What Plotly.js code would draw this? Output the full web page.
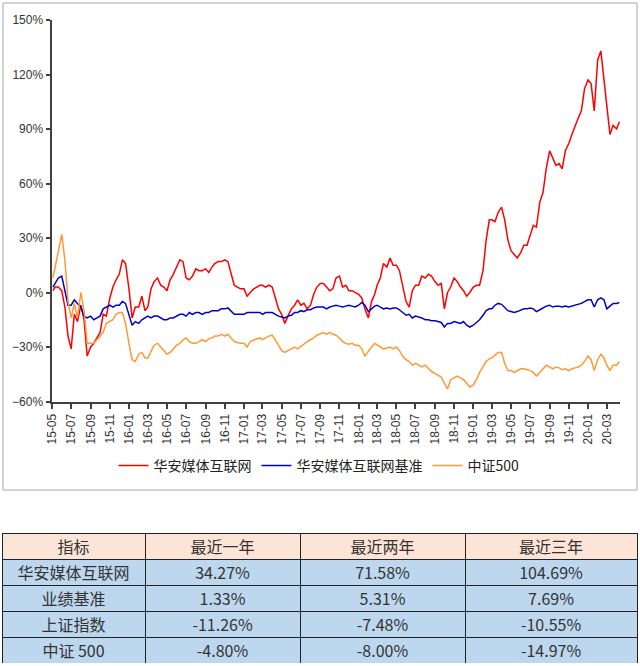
<!DOCTYPE html>
<html><head><meta charset="utf-8">
<script src="https://cdn.plot.ly/plotly-3.0.1.min.js"></script>
<style>html,body{margin:0;padding:0;background:#fff}#chart{width:640px;height:666px}</style>
</head><body><div id="chart"></div>
<script>
const dates = [
"2015-05-04","2015-05-11","2015-05-21",
"2015-06-01","2015-06-11","2015-06-21","2015-07-01","2015-07-11","2015-07-21","2015-08-01","2015-08-11","2015-08-21",
"2015-09-01","2015-09-11","2015-09-21","2015-10-01","2015-10-11","2015-10-21","2015-11-01","2015-11-11","2015-11-21",
"2015-12-01","2015-12-11","2015-12-21",
"2016-01-01","2016-01-11","2016-01-21","2016-02-01","2016-02-11","2016-02-21","2016-03-01","2016-03-11","2016-03-21",
"2016-04-01","2016-04-11","2016-04-21","2016-05-01","2016-05-11","2016-05-21","2016-06-01","2016-06-11","2016-06-21",
"2016-07-01","2016-07-11","2016-07-21","2016-08-01","2016-08-11","2016-08-21","2016-09-01","2016-09-11","2016-09-21",
"2016-10-01","2016-10-11","2016-10-21","2016-11-01","2016-11-11","2016-11-21","2016-12-01","2016-12-11","2016-12-21",
"2017-01-01","2017-01-11","2017-01-21","2017-02-01","2017-02-11","2017-02-21","2017-03-01","2017-03-11","2017-03-21",
"2017-04-01","2017-04-11","2017-04-21","2017-05-01","2017-05-11","2017-05-21","2017-06-01","2017-06-11","2017-06-21",
"2017-07-01","2017-07-11","2017-07-21","2017-08-01","2017-08-11","2017-08-21","2017-09-01","2017-09-11","2017-09-21",
"2017-10-01","2017-10-11","2017-10-21","2017-11-01","2017-11-11","2017-11-21","2017-12-01","2017-12-11","2017-12-21",
"2018-01-01","2018-01-11","2018-01-21","2018-02-01","2018-02-11","2018-02-21","2018-03-01","2018-03-11","2018-03-21",
"2018-04-01","2018-04-11","2018-04-21","2018-05-01","2018-05-11","2018-05-21","2018-06-01","2018-06-11","2018-06-21",
"2018-07-01","2018-07-11","2018-07-21","2018-08-01","2018-08-11","2018-08-21","2018-09-01","2018-09-11","2018-09-21",
"2018-10-01","2018-10-11","2018-10-21","2018-11-01","2018-11-11","2018-11-21","2018-12-01","2018-12-11","2018-12-21",
"2019-01-01","2019-01-11","2019-01-21","2019-02-01","2019-02-11","2019-02-21","2019-03-01","2019-03-11","2019-03-21",
"2019-04-01","2019-04-11","2019-04-21","2019-05-01","2019-05-11","2019-05-21","2019-06-01","2019-06-11","2019-06-21",
"2019-07-01","2019-07-11","2019-07-21","2019-08-01","2019-08-11","2019-08-21","2019-09-01","2019-09-11","2019-09-21",
"2019-10-01","2019-10-11","2019-10-21","2019-11-01","2019-11-11","2019-11-21","2019-12-01","2019-12-11","2019-12-21",
"2020-01-01","2020-01-11","2020-01-21","2020-02-01","2020-02-11","2020-02-21","2020-03-01","2020-03-11","2020-03-21",
"2020-04-01","2020-04-10"
];
const fundReturn = [
1,3,3, 1,-8,-24, -31,-12,-16, -7,-15,-35, -30,-28,-25, -22,-12,-13, -3,3,7, 10,18,16,
2,-14,-8, -8,-2,-10, -8,2,6, 8,4,3, 1,7,10, 14,18,17, 8,7,9, 13,12,12, 13,11,14, 16,17,17, 18,17,11, 4,3,2,
2,-2,0, 2,3,4, 4,3,4, 3,-3,-9, -12,-17,-13, -9,-7,-4, -7,-6,-9, -7,-1,3, 5,5,3, 1,2,8, 9,3,4, 1,1,0,
-1,-3,-9, -14,-5,-1, 4,8,16, 14,19,15, 15,12,3, -5,-8,1, 4,4,9, 8,10,9, 6,4,5, -9,0,3, 8,6,3, 1,-2,0,
3,4,4, 12,29,40, 40,39,44, 47,40,29, 23,21,19, 22,26,26, 31,37,36, 50,55,68, 78,74,70, 71,68,78, 82,87,92, 96,100,112,
117,115,100, 128,133,118, 103,87,92, 90,94
];
const benchmarkReturn = [
3,5,8, 9,1,-7, -7,-4,-6, -8,-13,-14, -13,-15,-14, -13,-9,-8, -7,-8,-7, -7,-5,-6,
-13,-18,-16, -17,-15,-14, -13,-14,-13, -13,-14,-15, -15,-14,-14, -13,-12,-12, -13,-11,-12, -11,-11,-12, -11,-11,-10, -10,-10,-9, -9,-8.5,-10, -12,-12,-12,
-12,-11,-11, -11,-11,-11, -12,-11,-11, -11,-12,-13, -13.5,-14,-13, -12.5,-11,-11, -10,-10.5,-9.5, -9.5,-8.5,-8, -8,-8,-9, -8,-7.5,-7, -7.5,-8,-7.5, -7,-7.5,-8,
-7,-5.5,-7, -10.5,-9,-7.5, -7,-8,-9, -8.5,-9,-8.5, -8.5,-9.5,-11, -12.5,-12,-14, -13,-13.5,-14, -15,-15,-15.5, -15.5,-16,-16.5, -19,-17,-17, -16,-16.5,-17, -16,-18,-19,
-18,-16.5,-15, -12.5,-10,-9, -9,-7,-6, -6.5,-8.5,-10, -10.5,-11,-10.5, -9.5,-9,-9, -8.5,-9,-10.5, -9.5,-8.5,-7.5, -7,-8,-7.5, -7.5,-8,-7.5, -8,-7.5,-7, -6.5,-6,-5,
-4,-4,-8, -4,-3,-4, -9,-7.5,-6, -6,-5.5
];
const csi500Return = [
8,14,22, 32,18,-5, -14,-6,-14, 0,-10,-28, -28,-28,-26, -24,-22,-17, -16,-15,-12, -11,-11,-17,
-28,-37,-38, -34,-33,-36, -36,-32,-29, -28,-30,-32, -34,-33,-31, -29,-28,-26, -25,-27,-28, -28,-27,-26, -27,-25.5,-25, -24,-24,-23, -24,-23,-25, -27,-27.5,-28,
-28,-30,-27, -26,-25.5,-25, -26,-25,-24, -23.5,-26,-29, -32,-33,-32, -31,-30,-31, -29.5,-28,-27, -26,-25,-23.5, -22.5,-22,-23, -22,-23,-23.5, -25,-27,-28, -28.5,-28,-29,
-29,-31,-35, -32,-30,-28, -29,-30,-31, -30.5,-30,-31, -30,-32,-35, -37,-38,-40, -39,-40,-41, -40,-42,-43.5, -44.5,-45.5,-46.5, -50,-53,-48, -47,-46,-47, -48,-50,-52,
-51,-48,-44, -41,-38,-36.5, -36,-34.5,-33, -33,-39,-43, -43,-44,-43, -42,-42,-42.5, -43,-44,-46, -44,-42,-40, -41,-42,-41, -41.5,-42.5,-42, -43,-42,-41.5, -41,-40,-38,
-35,-37,-43, -37,-34,-36, -40,-43,-40, -40,-38
];
const seriesNames = ["华安媒体互联网","华安媒体互联网基准","中证500"];

const tableHeader = ["指标","最近一年","最近两年","最近三年"];
const rowNames = ["华安媒体互联网","业绩基准","上证指数","中证 500"];
const oneYear = ["34.27%","1.33%","-11.26%","-4.80%"];
const twoYear = ["71.58%","5.31%","-7.48%","-8.00%"];
const threeYear = ["104.69%","7.69%","-10.55%","-14.97%"];

const W = 640, H = 666;
const px = v => v / W, py = v => (H - v) / H;
const axisCol = '#404040';
const tickFont = {family: 'Arial, "Liberation Sans", sans-serif', size: 12, color: '#333'};

const traces = [
  {x: dates, y: fundReturn, name: seriesNames[0], type: 'scatter', mode: 'lines', line: {color: '#ff0000', width: 1.5}},
  {x: dates, y: benchmarkReturn, name: seriesNames[1], type: 'scatter', mode: 'lines', line: {color: '#0000cc', width: 1.5}},
  {x: dates, y: csi500Return, name: seriesNames[2], type: 'scatter', mode: 'lines', line: {color: '#ff9933', width: 1.5}},
  {type: 'table', domain: {x: [px(2), px(637)], y: [py(663), py(533)]},
   columnwidth: [143, 155, 165, 172],
   header: {values: tableHeader, align: 'center', height: 26,
            fill: {color: '#fce4d6'}, line: {color: '#222', width: 1},
            font: {family: '"Noto Sans CJK SC", sans-serif', size: 16, color: '#333'}},
   cells: {values: [rowNames, oneYear, twoYear, threeYear], align: 'center', height: 26,
           fill: {color: '#bdd7ee'}, line: {color: '#222', width: 1},
           font: {family: '"Noto Sans CJK SC", sans-serif', size: 16, color: '#333'}}}
];

const layout = {
  width: W, height: H,
  margin: {l: 0, r: 0, t: 0, b: 0},
  paper_bgcolor: '#fff', plot_bgcolor: '#fff',
  showlegend: true,
  legend: {orientation: 'h', x: px(319), xanchor: 'center', y: py(466), yanchor: 'middle',
           font: {family: '"Noto Sans CJK SC", sans-serif', size: 14, color: '#222'}, itemwidth: 30},
  xaxis: {domain: [px(52), px(620)], type: 'date', range: ['2015-05-01', '2020-04-12'],
          tick0: '2015-05-01', dtick: 'M2', tickformat: '%y-%m', tickangle: -90,
          showgrid: false, zeroline: false, showline: true, linecolor: axisCol, linewidth: 2.5,
          ticks: 'outside', ticklen: 5, tickwidth: 2, tickcolor: axisCol, tickfont: tickFont,
          anchor: 'y'},
  yaxis: {domain: [py(401.5), py(20)], range: [-60, 150], dtick: 30, tick0: 0, ticksuffix: '%',
          showgrid: false, zeroline: false, showline: true, linecolor: axisCol, linewidth: 2.5,
          ticks: 'outside', ticklen: 4, tickwidth: 2, tickcolor: axisCol, tickfont: tickFont,
          anchor: 'x'},
  shapes: [{type: 'rect', xref: 'paper', yref: 'paper', x0: px(3), x1: px(637), y0: py(490), y1: py(3),
            line: {color: '#a6a6a6', width: 1}, fillcolor: 'rgba(0,0,0,0)', layer: 'below'}]
};

Plotly.newPlot('chart', traces, layout, {staticPlot: true, displayModeBar: false});
</script></body></html>
